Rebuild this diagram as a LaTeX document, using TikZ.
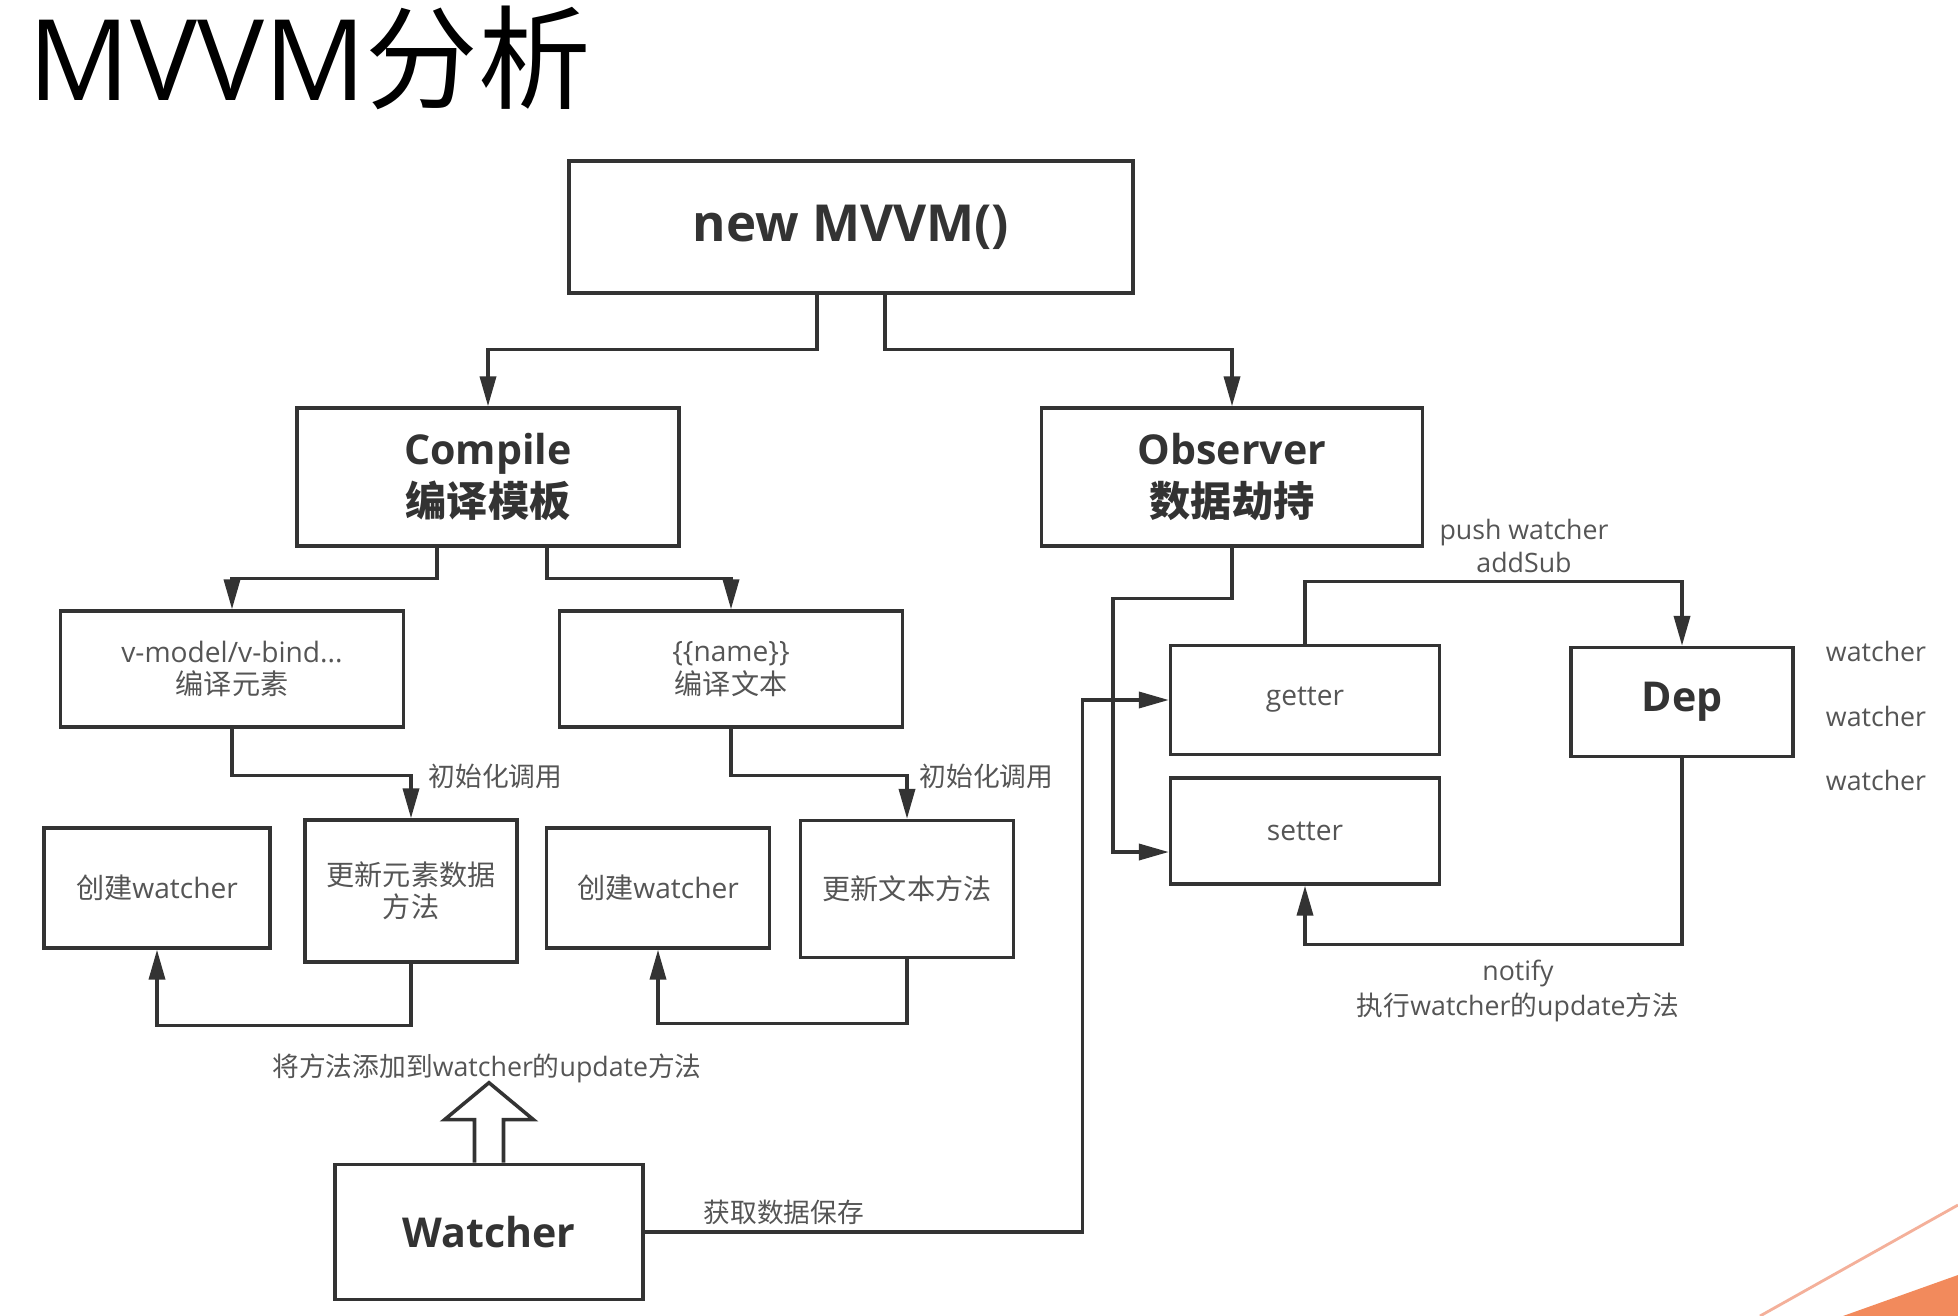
\documentclass[tikz,border=0pt]{standalone}
\usepackage{fontspec}
\setmainfont{Open Sans}
\newfontfamily\cjk{Noto Sans CJK SC}
\usetikzlibrary{calc,arrows.meta,positioning}
\newcommand{\cn}[1]{{\cjk #1}}
\definecolor{linegrey}{HTML}{333333}
\definecolor{textgrey}{HTML}{555555}
\definecolor{slideorange}{HTML}{F28A5C}
\definecolor{slidepink}{HTML}{F4B09A}

\begin{document}
\begin{tikzpicture}[x=0.01cm,y=-0.01cm]

\tikzset{box/.style={draw=linegrey,line width=1pt,inner sep=0pt,align=center,text=textgrey,font=\fontsize{8}{9.2}\selectfont},
bigbox/.style={box,text=linegrey,font=\fontsize{11.7}{14.8}\selectfont\bfseries},
edge/.style={draw=linegrey,line width=0.9pt,-{Triangle[length=8.5pt,width=4.6pt]}},
lbl/.style={text=textgrey,font=\fontsize{7.6}{9}\selectfont,inner sep=0pt}}

% Page
\fill[white] (0,0) rectangle (1958,1316);
\useasboundingbox (0,0) rectangle (1958,1316);
\fill[slideorange] (1843,1316) -- (1958,1275) -- (1958,1316) -- cycle;
\draw[slidepink,line width=0.8pt] (1760,1316) -- (1958,1205);

% Title
\node[anchor=base west,inner sep=0pt,font=\fontsize{32}{32}\selectfont] (title) at (28,101) {MVVM\cn{分析}};

% Main boxes
\node[bigbox,minimum width=5.64cm,minimum height=1.32cm,font=\fontsize{14.5}{17}\selectfont\bfseries] (mvvm) at (851,227) {new MVVM()};
\node[bigbox,minimum width=3.82cm,minimum height=1.38cm] (compile) at (488,477) {Compile\\\cn{编译模板}};
\node[bigbox,minimum width=3.81cm,minimum height=1.38cm] (observer) at (1232,477) {Observer\\\cn{数据劫持}};

% Compile side
\node[box,minimum width=3.43cm,minimum height=1.16cm] (vmodel) at (232,669) {v-model/v-bind...\\\cn{编译元素}};
\node[box,minimum width=3.43cm,minimum height=1.16cm] (name) at (731,669) {\{\{name\}\}\\\cn{编译文本}};
\node[box,minimum width=2.26cm,minimum height=1.20cm] (cwa) at (157,888) {\cn{创建}watcher};
\node[box,minimum width=2.12cm,minimum height=1.42cm] (upda) at (411,891) {\cn{更新元素数据}\\\cn{方法}};
\node[box,minimum width=2.23cm,minimum height=1.20cm] (cwb) at (658,888) {\cn{创建}watcher};
\node[box,minimum width=2.13cm,minimum height=1.37cm] (updb) at (907,889) {\cn{更新文本方法}};
\node[bigbox,minimum width=3.08cm,minimum height=1.35cm] (watcher) at (489,1232) {Watcher};

% Observer side
\node[box,minimum width=2.69cm,minimum height=1.09cm] (getter) at (1305,700) {getter};
\node[box,minimum width=2.69cm,minimum height=1.06cm] (setter) at (1305,831) {setter};
\node[bigbox,minimum width=2.22cm,minimum height=1.09cm] (dep) at (1682,702) {Dep};
\foreach \y [count=\i] in {651,716,780} \node[lbl] (w\i) at (1876,\y) {watcher};

% Edges from new MVVM()
\draw[edge] ([xshift=-0.34cm]mvvm.south) -- ++(0,55) -| (compile.north);
\draw[edge] ([xshift=0.34cm]mvvm.south) -- ++(0,55) -| (observer.north);

% Compile edges
\draw[edge] ([xshift=-0.51cm]compile.south) -- ++(0,31) -| (vmodel.north);
\draw[edge] ([xshift=0.59cm]compile.south) -- ++(0,31) -| (name.north);
\draw[edge] (vmodel.south) -- ++(0,47) -| (upda.north);
\draw[edge] (name.south) -- ++(0,47) -| (updb.north);
\draw[edge] (upda.south) -- ++(0,62) -| (cwa.south);
\draw[edge] (updb.south) -- ++(0,64) -| (cwb.south);
\node[lbl,anchor=west] (inita) at (428,776) {\cn{初始化调用}};
\node[lbl,anchor=west] (initb) at (919,776) {\cn{初始化调用}};

% Watcher
\node[lbl] (addlbl) at (487,1068) {\cn{将方法添加到}watcher\cn{的}update\cn{方法}};
\draw[draw=linegrey,line width=1pt,line join=miter] ([xshift=-0.145cm]watcher.north) -- ++(0,-43) -- ++(-30,0) -- ++(44.5,-37) -- ++(44.5,37) -- ++(-30,0) -- ++(0,43);
\draw[edge] (watcher.east) -- ++(438,0) |- (getter.west);
\node[lbl,anchor=west] (save) at (703,1212) {\cn{获取数据保存}};

% Observer edges
\draw[edge] (observer.south) -- ++(0,51) -- ++(-119,0) |- ([yshift=-0.21cm]setter.west);
\draw[edge] (getter.north) -- ++(0,-62) -| (dep.north);
\draw[edge] (dep.south) -- ++(0,186) -| (setter.south);
\node[lbl,align=center,font=\fontsize{7.6}{9.5}\selectfont] (push) at (1524,546) {push watcher\\addSub};
\node[lbl,align=center,font=\fontsize{7.6}{10}\selectfont] (notify) at (1518,991) {notify\\\cn{执行}watcher\cn{的}update\cn{方法}};

\end{tikzpicture}
\end{document}
